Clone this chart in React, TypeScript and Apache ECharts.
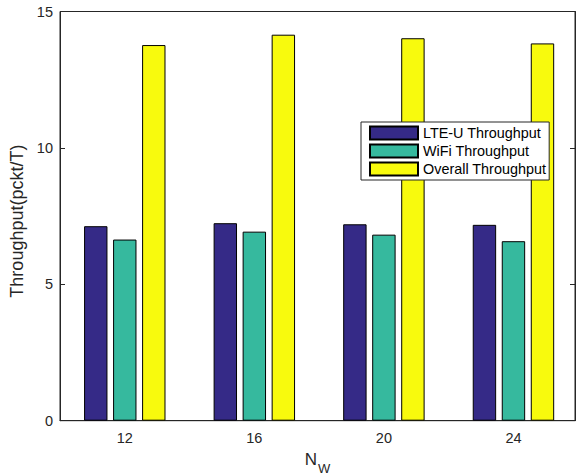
import React, { useEffect, useRef } from "react";
import * as echarts from "echarts";

const categories = [12, 16, 20, 24];
const lteU = [7.13, 7.24, 7.2, 7.18];
const wifi = [6.64, 6.93, 6.82, 6.58];
const overall = [13.77, 14.15, 14.02, 13.83];
const seriesNames = ["LTE-U Throughput", "WiFi Throughput", "Overall Throughput"];
const seriesColors = ["#352a87", "#36b99e", "#f8fa0d"];

const AXIS = "#262626";
const FONT = "'Liberation Sans', Arial, Helvetica, sans-serif";

export default function App() {
  const ref = useRef<HTMLDivElement>(null);
  useEffect(() => {
    if (!ref.current) return;
    const chart = echarts.init(ref.current, undefined, { renderer: "svg" });
    const values = [lteU, wifi, overall];
    chart.setOption({
      animation: false,
      backgroundColor: "#fff",
      textStyle: { fontFamily: FONT },
      grid: {
        left: 60,
        right: 4,
        top: 11.5,
        bottom: 54.3,
        containLabel: false,
        outerBoundsMode: "none",
        show: true,
        borderColor: AXIS,
        borderWidth: 1,
      },
      legend: {
        orient: "vertical",
        left: 361,
        top: 122,
        itemWidth: 48,
        itemHeight: 13,
        itemGap: 0,
        padding: [2, 3, 2, 8],
        borderColor: AXIS,
        borderWidth: 1,
        backgroundColor: "#fff",
        icon: "rect",
        data: seriesNames,
        textStyle: { fontSize: 14.4, lineHeight: 18, color: "#000", fontFamily: FONT },
      },
      xAxis: {
        type: "value",
        min: 10,
        max: 25.9,
        interval: 2,
        splitLine: { show: false },
        axisTick: { show: false },
        axisLine: { lineStyle: { color: AXIS, width: 1 } },
        axisLabel: {
          color: AXIS,
          fontSize: 14.5,
          margin: 10,
          fontFamily: FONT,
          showMaxLabel: false,
          formatter: (v: number) => (categories.includes(v) ? String(v) : ""),
        },
        name: "{a|N}{b|W}",
        nameLocation: "middle",
        nameGap: 28,
        nameTextStyle: {
          color: AXIS,
          fontFamily: FONT,
          rich: {
            a: { fontSize: 17, lineHeight: 20, verticalAlign: "top", color: AXIS, fontFamily: FONT },
            b: {
              fontSize: 13,
              lineHeight: 14,
              padding: [11, 0, 0, 1],
              verticalAlign: "top",
              color: AXIS,
              fontFamily: FONT,
            },
          },
        },
      },
      yAxis: [
        {
          type: "value",
          min: 0,
          max: 15,
          interval: 5,
          splitLine: { show: false },
          axisLine: { show: true, lineStyle: { color: AXIS, width: 1 } },
          axisTick: { show: true, inside: true, length: 5, lineStyle: { color: AXIS } },
          axisLabel: { color: AXIS, fontSize: 14.5, margin: 7, fontFamily: FONT },
          name: "Throughput(pckt/T)",
          nameLocation: "middle",
          nameGap: 27,
          nameRotate: 90,
          nameTextStyle: { color: AXIS, fontSize: 18, fontFamily: FONT, padding: [0, 10, 0, 0] },
        },
        {
          type: "value",
          position: "right",
          min: 0,
          max: 15,
          interval: 5,
          splitLine: { show: false },
          axisLine: { show: true, lineStyle: { color: AXIS, width: 1 } },
          axisTick: { show: true, inside: true, length: 5, lineStyle: { color: AXIS } },
          axisLabel: { show: false },
        },
      ],
      series: seriesNames.map((name, si) => ({
        name,
        type: "bar",
        yAxisIndex: 0,
        barWidth: 23.4,
        barGap: "24%",
        data: categories.map((c, i) => [c, values[si][i]]),
        itemStyle: { color: seriesColors[si], borderColor: "#000", borderWidth: 1 },
      })),
    });
    return () => chart.dispose();
  }, []);
  return (
    <div
      ref={ref}
      style={{ position: "fixed", left: 0, top: 0, width: 579, height: 475 }}
    />
  );
}
